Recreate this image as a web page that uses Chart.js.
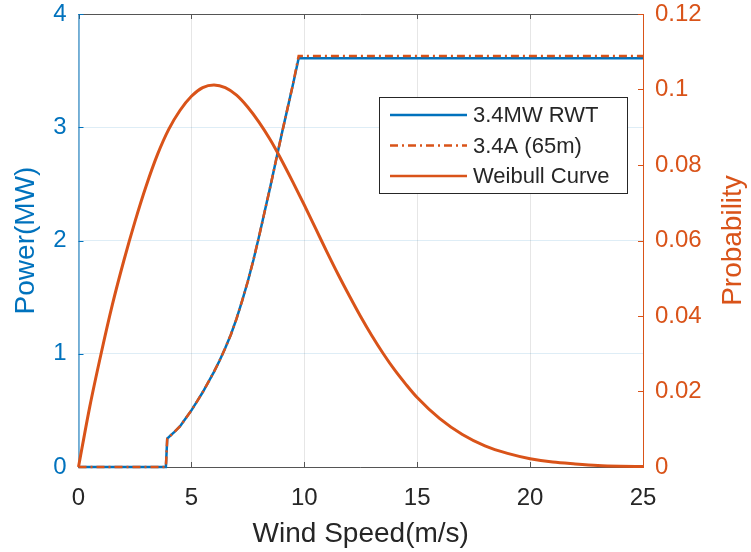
<!DOCTYPE html>
<html lang="en">
<head>
    <meta charset="UTF-8">
    <title>Power curve and Weibull</title>
    <style>
        * { margin: 0; padding: 0; }
        body { background: #fff; }
        canvas { display: block; }
    </style>
</head>
<body>
    <canvas id="chart" width="751" height="552"></canvas>
    <script src="https://cdn.jsdelivr.net/npm/chart.js@4"></script>
<script>
    // wind speed (m/s) for the power curves
    var powerSpeed = [0, 3.87, 3.93, 4.25, 4.5, 4.75, 5, 5.25, 5.5, 5.75, 6, 6.25, 6.5, 6.75, 7, 7.25,
        7.5, 7.75, 8, 8.25, 8.5, 8.75, 9, 9.25, 9.5, 9.75, 25];
    var rwtPower = [0, 0, 0.25, 0.31, 0.36, 0.43, 0.50, 0.58, 0.66, 0.75, 0.84, 0.94, 1.05, 1.17, 1.31, 1.47,
        1.64, 1.83, 2.04, 2.26, 2.48, 2.71, 2.94, 3.16, 3.38, 3.61, 3.61];
    var a65Power = [0, 0, 0.25, 0.31, 0.36, 0.43, 0.50, 0.58, 0.66, 0.75, 0.84, 0.94, 1.05, 1.17, 1.31, 1.47,
        1.64, 1.83, 2.04, 2.26, 2.48, 2.71, 2.94, 3.16, 3.38, 3.63, 3.63];

    // weibull distribution
    var weibullSpeed = [0, 0.5, 1, 1.5, 2, 2.5, 3, 3.5, 4, 4.5, 5, 5.5, 6, 6.5, 7, 7.5, 8, 8.5, 9, 9.5,
        10, 10.5, 11, 11.5, 12, 12.5, 13, 13.5, 14, 14.5, 15, 16, 17, 18, 19, 20, 21, 22, 23, 24, 25];
    var weibullProb = [0, 0.016, 0.030, 0.043, 0.0545, 0.065, 0.0745, 0.0828, 0.0895, 0.0945, 0.0982, 0.1005,
        0.1012, 0.1005, 0.0985, 0.0953, 0.0913, 0.0866, 0.0812, 0.0754, 0.0694, 0.0632, 0.0570, 0.0510,
        0.0453, 0.0398, 0.0347, 0.0300, 0.0257, 0.0219, 0.0184, 0.0128, 0.0086, 0.0056, 0.0036, 0.0022,
        0.0013, 0.0008, 0.0004, 0.0002, 0.0001];

    var seriesNames = ['3.4MW RWT', '3.4A (65m)', 'Weibull Curve'];

    var xTitle = 'Wind Speed(m/s)';
    var yTitle = 'Power(MW)';
    var y1Title = 'Probability';

    var blue = '#0072BD';
    var orange = '#D95319';
    var dark = '#262626';
    var fontName = '"Liberation Sans", Arial, sans-serif';

    function pairs(xs, ys) {
        var out = [];
        for (let i = 0; i < xs.length; i++) out.push({ x: xs[i], y: ys[i] });
        return out;
    }

    // drop the label overhang so the plot box sits where the padding says
    function noOverhang(s) {
        s.paddingTop = 0; s.paddingBottom = 0; s.paddingLeft = 0; s.paddingRight = 0;
    }

    // box, inward ticks, titles and legend the matlab way
    var matlabAxes = {
        id: 'matlabAxes',
        beforeDatasetsDraw: function (chart) {
            var c = chart.ctx, a = chart.chartArea;
            var sx = chart.scales.x, sy = chart.scales.y, sy1 = chart.scales.y1;
            c.save();
            c.lineWidth = 1;
            // top and bottom
            c.strokeStyle = '#555';
            c.beginPath();
            c.moveTo(a.left, a.top + 0.5); c.lineTo(a.right, a.top + 0.5);
            c.moveTo(a.left, a.bottom + 0.5); c.lineTo(a.right, a.bottom + 0.5);
            sx.ticks.forEach(function (t) {
                var px = Math.round(sx.getPixelForValue(t.value)) + 0.5;
                c.moveTo(px, a.bottom); c.lineTo(px, a.bottom - 5);
                c.moveTo(px, a.top); c.lineTo(px, a.top + 5);
            });
            c.stroke();
            // left
            c.strokeStyle = blue;
            c.beginPath();
            c.moveTo(a.left + 0.5, a.top); c.lineTo(a.left + 0.5, a.bottom + 1);
            sy.ticks.forEach(function (t) {
                var py = Math.round(sy.getPixelForValue(t.value)) + 0.5;
                c.moveTo(a.left, py); c.lineTo(a.left + 5, py);
            });
            c.stroke();
            // right
            c.strokeStyle = orange;
            c.beginPath();
            c.moveTo(a.right + 0.5, a.top); c.lineTo(a.right + 0.5, a.bottom + 1);
            sy1.ticks.forEach(function (t) {
                var py = Math.round(sy1.getPixelForValue(t.value)) + 0.5;
                c.moveTo(a.right, py); c.lineTo(a.right - 5, py);
            });
            c.stroke();
            c.restore();
        },
        afterDraw: function (chart) {
            var c = chart.ctx, a = chart.chartArea;
            c.save();
            c.font = '28px ' + fontName;
            c.textAlign = 'center';
            c.textBaseline = 'middle';
            c.fillStyle = dark;
            c.fillText(xTitle, (a.left + a.right) / 2, 534);
            c.fillStyle = blue;
            c.translate(26, (a.top + a.bottom) / 2);
            c.rotate(-Math.PI / 2);
            c.fillText(yTitle, 0, 0);
            c.restore();
            c.save();
            c.font = '28px ' + fontName;
            c.textAlign = 'center';
            c.textBaseline = 'middle';
            c.fillStyle = orange;
            c.translate(733, (a.top + a.bottom) / 2);
            c.rotate(-Math.PI / 2);
            c.fillText(y1Title, 0, 0);
            c.restore();

            // legend
            var bx = 379.5, by = 97.5, bw = 248, bh = 96;
            c.save();
            c.fillStyle = '#fff';
            c.fillRect(bx, by, bw, bh);
            c.strokeStyle = '#262626';
            c.lineWidth = 1;
            c.strokeRect(bx, by, bw, bh);
            c.font = '22px ' + fontName;
            c.textBaseline = 'middle';
            c.textAlign = 'left';
            chart.data.datasets.forEach(function (ds, i) {
                var ly = 115 + i * 30.5;
                c.strokeStyle = ds.borderColor;
                c.lineWidth = 2.5;
                c.setLineDash(ds.borderDash || []);
                c.beginPath();
                c.moveTo(390, ly); c.lineTo(467, ly);
                c.stroke();
                c.setLineDash([]);
                c.fillStyle = dark;
                c.fillText(ds.label, 473, ly + 1);
            });
            c.restore();
        }
    };

    var ctx = document.getElementById('chart').getContext('2d');
    var myChart = new Chart(ctx, {
        type: 'line',
        data: {
            datasets: [{
                label: seriesNames[0],
                data: pairs(powerSpeed, rwtPower),
                yAxisID: 'y',
                borderColor: blue,
                borderWidth: 2.5,
                order: 3
            }, {
                label: seriesNames[1],
                data: pairs(powerSpeed, a65Power),
                yAxisID: 'y',
                borderColor: orange,
                borderDash: [8, 4, 2, 4],
                borderWidth: 2.5,
                order: 2
            }, {
                label: seriesNames[2],
                data: pairs(weibullSpeed, weibullProb),
                yAxisID: 'y1',
                borderColor: orange,
                borderWidth: 3,
                cubicInterpolationMode: 'monotone',
                order: 1
            }]
        },
        plugins: [matlabAxes],
        options: {
            responsive: false,
            animation: false,
            clip: false,
            layout: { padding: { top: 14, left: 0, right: 0, bottom: 0 } },
            elements: { point: { radius: 0 }, line: { tension: 0, fill: false } },
            plugins: { legend: { display: false }, tooltip: { enabled: false } },
            scales: {
                x: {
                    type: 'linear', min: 0, max: 25,
                    ticks: { stepSize: 5, color: dark, font: { size: 24, family: fontName }, padding: 17, maxRotation: 0 },
                    grid: { color: '#e6e6e6', drawTicks: false },
                    border: { display: false },
                    afterFit: function (s) { s.height = 85; noOverhang(s); }
                },
                y: {
                    position: 'left', min: 0, max: 4,
                    ticks: { stepSize: 1, color: blue, font: { size: 24, family: fontName }, padding: 12 },
                    grid: { color: 'rgba(0,114,189,0.13)', drawTicks: false },
                    border: { display: false },
                    afterFit: function (s) { s.width = 78.5; noOverhang(s); }
                },
                y1: {
                    position: 'right', min: 0, max: 0.12,
                    ticks: {
                        stepSize: 0.02, color: orange, font: { size: 24, family: fontName }, padding: 12,
                        callback: function (v) { return String(+v.toFixed(2)); }
                    },
                    grid: { drawOnChartArea: false, drawTicks: false },
                    border: { display: false },
                    afterFit: function (s) { s.width = 108; noOverhang(s); }
                }
            }
        }
    });
</script>
</body>
</html>
